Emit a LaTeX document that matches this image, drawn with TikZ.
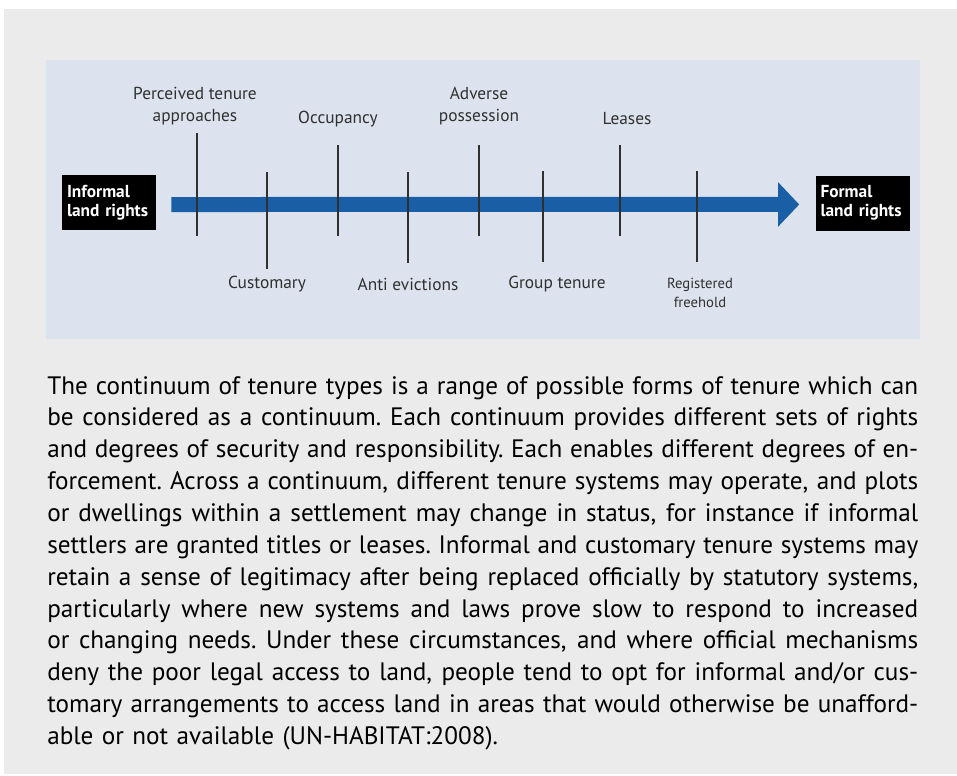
\documentclass[tikz,border=0pt]{standalone}
\usepackage{fontspec}
\setmainfont{PT Sans}
\usetikzlibrary{arrows.meta}
\usepackage{xcolor}
\definecolor{boxgray}{HTML}{EBEBEB}
\definecolor{panelblue}{HTML}{DCE3EE}
\definecolor{arrowblue}{HTML}{1A5FA6}
\definecolor{tickgray}{HTML}{303030}
\newlength\parawd
\setlength{\parawd}{653.25pt}
% one justified line of the explanation
\newcommand\fullline[1]{\leavevmode\hbox to\parawd{\spaceskip=0.25em plus 0.5em minus 0.1em\relax
    \xspaceskip=\spaceskip #1}}

\begin{document}
\begin{tikzpicture}[x=0.75pt,y=-0.75pt,>={Triangle[length=15.75pt,width=32.25pt]},
    rightsbox/.style={fill=black,text=white,align=left,inner xsep=3.75pt,inner ysep=3pt,
        text width=63pt,minimum height=41.25pt,
        font=\bfseries\fontsize{13}{14.5}\selectfont},
    tenure/.style={text=tickgray,align=center,inner sep=0pt,
        font=\fontsize{13}{16.5}\selectfont},
    tick/.style={draw=tickgray,line width=1.5pt}]
        \useasboundingbox (0,0) rectangle (957,775);
        % grey page box and blue panel
        \fill[boxgray] (4,9) rectangle (957,774);
        \fill[panelblue] (46,60) rectangle (920,339);
        % the two ends of the continuum
        \node[rightsbox] (inf) at (109,202.5) {Informal\\land rights};
        \node[rightsbox] (fml) at (862.5,203) {Formal\\land rights};
        \draw[->,line width=11.25pt,arrowblue]
            ([xshift=11.25pt,yshift=-1.5pt]inf.east) -- ([xshift=-12pt,yshift=-1.1pt]fml.west);
        % ticks across the arrow
        \foreach \x/\ytop/\ybot in {
            197/133/236, 267/172/269, 338/145/236, 408/172/263,
            479/145/236, 543/171/262, 620/145/236, 697/171/262}
                \draw[tick] (\x,\ytop) -- (\x,\ybot);
        % tenure types above the arrow
        \foreach \x/\y/\name/\txt in {
            195/106/perc/Perceived tenure\\approaches,
            338/119/occ/Occupancy,
            479/106/adv/Adverse\\possession,
            627/119/lea/Leases}
                \node[tenure] (\name) at (\x,\y) {\txt};
        % tenure types below the arrow
        \foreach \x/\y/\name/\txt in {
            267/284/cust/Customary,
            408/284/anti/Anti evictions,
            557/284/grp/Group tenure}
                \node[tenure] (\name) at (\x,\y) {\txt};
        \node[tenure,font=\fontsize{11}{14}\selectfont] (reg) at (700,293) {Registered\\freehold};
        % explanation below the panel
        \node[anchor=base west,inner sep=0pt,text width=\parawd,align=left,
              font=\fontsize{18.9}{23.9}\selectfont] (para) at (47,394) {%
\fullline{The continuum of tenure types is a range of possible forms of tenure which can}\\
\fullline{be considered as a continuum. Each continuum provides different sets of rights}\\
\fullline{and degrees of security and responsibility. Each enables different degrees of en-}\\
\fullline{forcement. Across a continuum, different tenure systems may operate, and plots}\\
\fullline{or dwellings within a settlement may change in status, for instance if informal}\\
\fullline{settlers are granted titles or leases. Informal and customary tenure systems may}\\
\fullline{retain a sense of legitimacy after being replaced officially by statutory systems,}\\
\fullline{particularly where new systems and laws prove slow to respond to increased}\\
\fullline{or changing needs. Under these circumstances, and where official mechanisms}\\
\fullline{deny the poor legal access to land, people tend to opt for informal and/or cus-}\\
\fullline{tomary arrangements to access land in areas that would otherwise be unafford-}\\
able or not available (UN-HABITAT:2008).};
\end{tikzpicture}
\end{document}
